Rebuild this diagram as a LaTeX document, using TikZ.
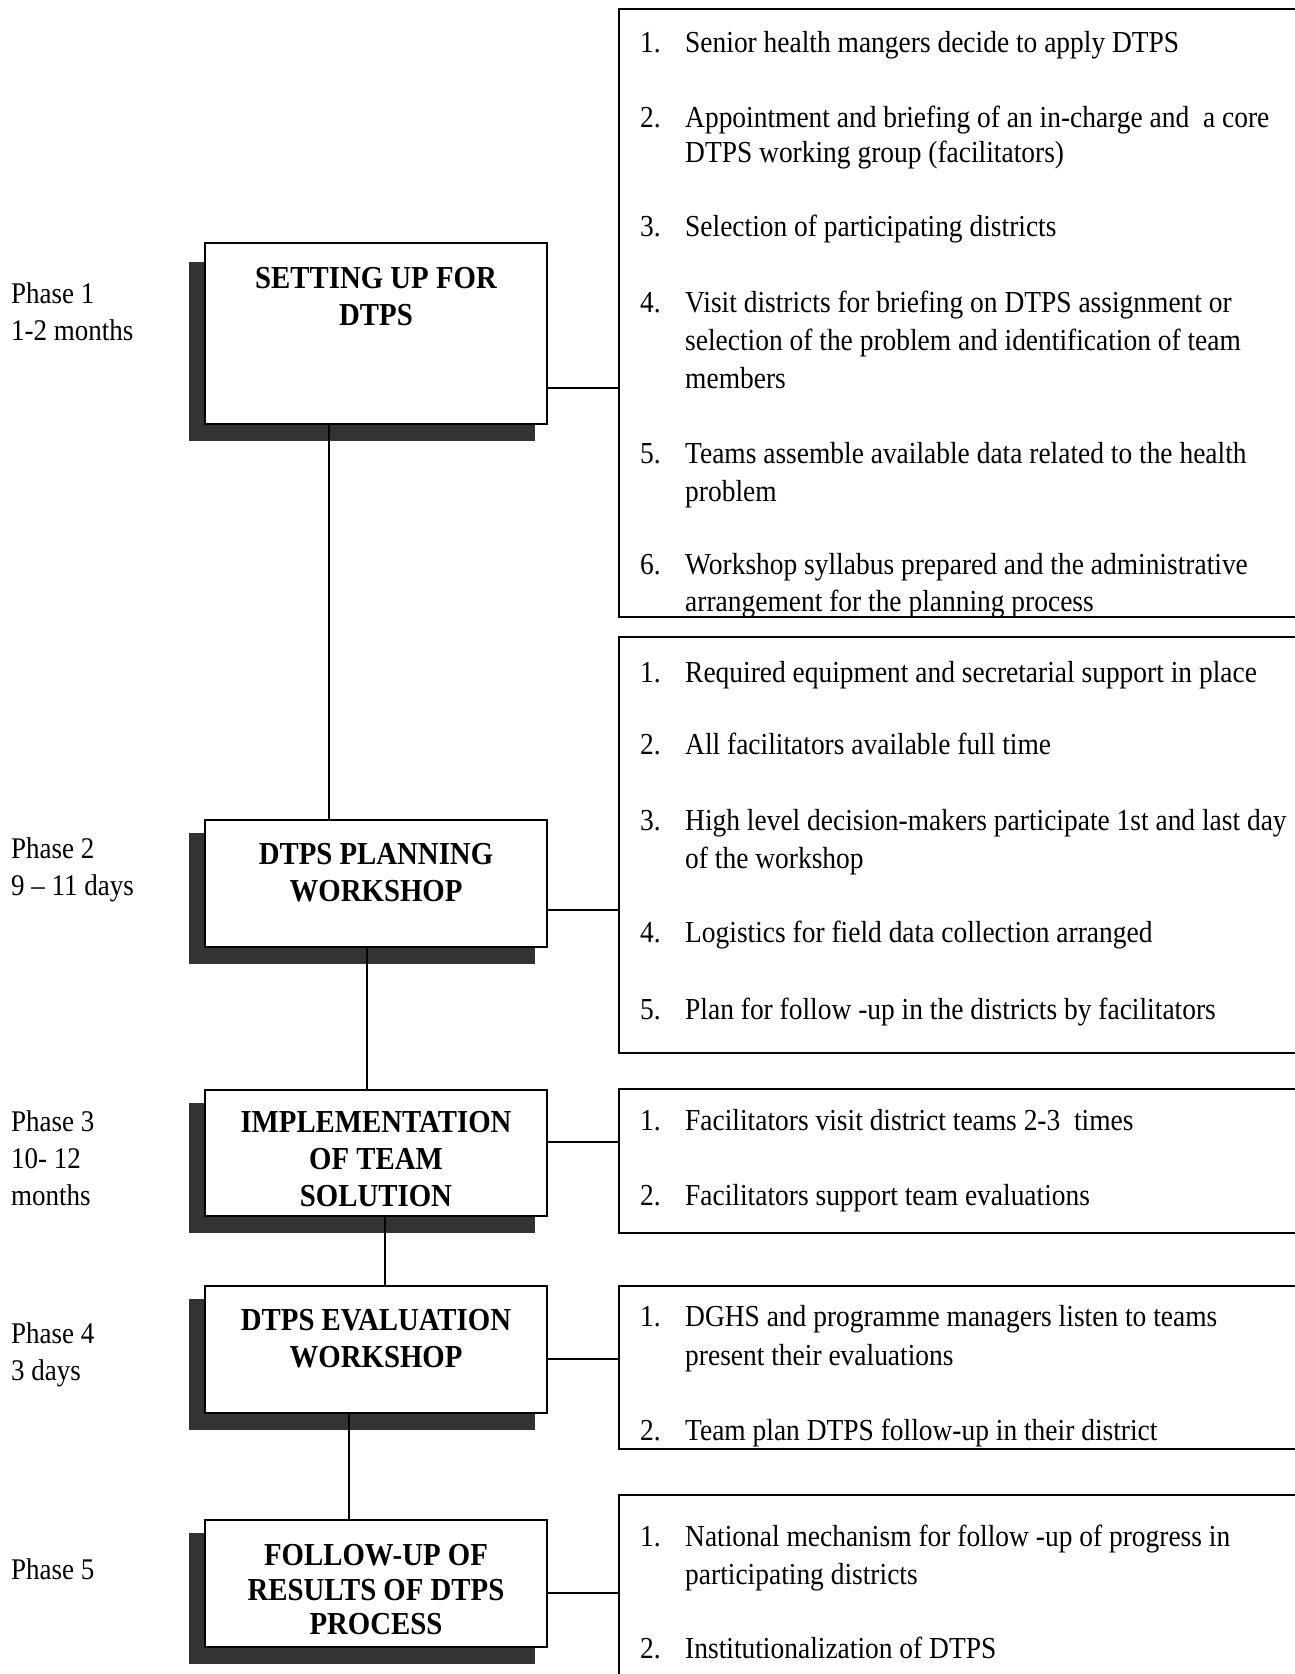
\documentclass[tikz,border=0pt]{standalone}
\usepackage{fontspec}
\setmainfont{Liberation Serif}[FakeStretch=0.9]
\usetikzlibrary{calc}
\pgfdeclarelayer{shadowlayer}
\pgfsetlayers{shadowlayer,main}
\definecolor{shadowgray}{HTML}{333333}
\tikzset{
  phasebox/.style={draw, line width=2pt, fill=white, minimum width=342pt, inner sep=0pt},
  boxshadow/.style={fill=shadowgray},
  listbox/.style={draw, line width=2pt, minimum width=691pt, inner sep=0pt},
  titletext/.style={font=\fontsize{32}{37}\selectfont\bfseries, align=center, inner sep=0pt},
  phaselbl/.style={font=\fontsize{30}{37}\selectfont, align=left, anchor=west, inner sep=0pt},
  itxt/.style={font=\fontsize{30.5}{37}\selectfont, anchor=base west, inner sep=0pt},
  conn/.style={line width=2pt},
}
\newcommand\itl[3]{\node[itxt] (#1) at (685,#2) {#3};}
\newcommand\itn[3]{\node[itxt] (#1) at (640,#2) {#3};}
\newcommand\boxshade[2]{\fill[boxshadow] ($(#1.north west)+(-15,#2)$) rectangle ($(#1.south east)+(-13,16)$);}
\begin{document}
\begin{tikzpicture}[x=1pt,y=-1pt]
\useasboundingbox (0,0) rectangle (1295,1674);

% right list boxes
\node[listbox, minimum height=608.5pt] (r1) at (964.5,312.75) {};
\node[listbox, minimum height=416pt] (r2) at (964.5,845) {};
\node[listbox, minimum height=144pt] (r3) at (964.5,1161) {};
\node[listbox, minimum height=163pt] (r4) at (964.5,1367.5) {};
\node[listbox, minimum height=210pt] (r5) at (964.5,1600) {};

% phase boxes
\node[phasebox, minimum height=181pt] (b1) at (376,333.5) {};
\node[phasebox, minimum height=127pt] (b2) at (376,883.5) {};
\node[phasebox, minimum height=126pt] (b3) at (376,1153) {};
\node[phasebox, minimum height=127pt] (b4) at (376,1349.5) {};
\node[phasebox, minimum height=127pt] (b5) at (376,1583.5) {};

% background and shadows behind the phase boxes
\begin{pgfonlayer}{shadowlayer}
\fill[white] (0,0) rectangle (1295,1674);
\boxshade{b1}{20}
\boxshade{b2}{14}
\boxshade{b3}{14}
\boxshade{b4}{14}
\boxshade{b5}{14}
\end{pgfonlayer}

% titles
\node[titletext] (t1) at (376,296.8) {SETTING UP FOR\\DTPS};
\node[titletext] (t2) at (376,872.8) {DTPS PLANNING\\WORKSHOP};
\node[titletext] (t3) at (376,1159.5) {IMPLEMENTATION\\OF TEAM\\SOLUTION};
\node[titletext] (t4) at (376,1338.8) {DTPS EVALUATION\\WORKSHOP};
\node[titletext, font=\fontsize{32}{34.5}\selectfont\bfseries] (t5) at (376,1589.7) {FOLLOW-UP OF\\RESULTS OF DTPS\\PROCESS};

% phase labels
\node[phaselbl] (p1) at (11,311.8) {Phase 1\\1-2 months};
\node[phaselbl] (p2) at (11,869.5) {Phase 2\\9 -- 11 days};
\node[phaselbl] (p3) at (11,1158.5) {Phase 3\\10- 12\\months};
\node[phaselbl] (p4) at (11,1354.8) {Phase 4\\3 days};
\node[phaselbl] (p5) at (11,1569) {Phase 5};

% connector coordinates
\coordinate (v12) at (329,0);
\coordinate (v23) at (367,0);
\coordinate (v34) at (385,0);
\coordinate (v45) at (349,0);
\coordinate (h1) at (0,388);
\coordinate (h2) at (0,910);
\coordinate (h3) at (0,1142);
\coordinate (h4) at (0,1359);
\coordinate (h5) at (0,1593);

\draw[conn] (b1.south -| v12) -- (b2.north -| v12);
\draw[conn] (b2.south -| v23) -- (b3.north -| v23);
\draw[conn] (b3.south -| v34) -- (b4.north -| v34);
\draw[conn] (b4.south -| v45) -- (b5.north -| v45);
\draw[conn] (b1.east |- h1) -- (r1.west |- h1);
\draw[conn] (b2.east |- h2) -- (r2.west |- h2);
\draw[conn] (b3.east |- h3) -- (r3.west |- h3);
\draw[conn] (b4.east |- h4) -- (r4.west |- h4);
\draw[conn] (b5.east |- h5) -- (r5.west |- h5);

% box 1 items
\itn{n11}{52}{1.}     \itl{l11a}{52}{Senior health mangers decide to apply DTPS}
\itn{n12}{127}{2.}    \itl{l12a}{127}{Appointment and briefing of an in-charge and\ \ a core}
                      \itl{l12b}{162}{DTPS working group (facilitators)}
\itn{n13}{236.5}{3.}  \itl{l13a}{236.5}{Selection of participating districts}
\itn{n14}{312.5}{4.}  \itl{l14a}{312.5}{Visit districts for briefing on DTPS assignment or}
                      \itl{l14b}{350.5}{selection of the problem and identification of team}
                      \itl{l14c}{388}{members}
\itn{n15}{463}{5.}    \itl{l15a}{463}{Teams assemble available data related to the health}
                      \itl{l15b}{501}{problem}
\itn{n16}{574.5}{6.}  \itl{l16a}{574.5}{Workshop syllabus prepared and the administrative}
                      \itl{l16b}{611.5}{arrangement for the planning process}

% box 2 items
\itn{n21}{682}{1.}    \itl{l21a}{682}{Required equipment and secretarial support in place}
\itn{n22}{754.5}{2.}  \itl{l22a}{754.5}{All facilitators available full time}
\itn{n23}{830.5}{3.}  \itl{l23a}{830.5}{High level decision-makers participate 1st and last day}
                      \itl{l23b}{868.5}{of the workshop}
\itn{n24}{942.5}{4.}  \itl{l24a}{942.5}{Logistics for field data collection arranged}
\itn{n25}{1019.5}{5.} \itl{l25a}{1019.5}{Plan for follow -up in the districts by facilitators}

% box 3 items
\itn{n31}{1130.5}{1.} \itl{l31a}{1130.5}{Facilitators visit district teams 2-3\ \ times}
\itn{n32}{1205.5}{2.} \itl{l32a}{1205.5}{Facilitators support team evaluations}

% box 4 items
\itn{n41}{1326.5}{1.} \itl{l41a}{1326.5}{DGHS and programme managers listen to teams}
                      \itl{l41b}{1365.5}{present their evaluations}
\itn{n42}{1440}{2.}   \itl{l42a}{1440}{Team plan DTPS follow-up in their district}

% box 5 items
\itn{n51}{1546}{1.}   \itl{l51a}{1546}{National mechanism for follow -up of progress in}
                      \itl{l51b}{1584}{participating districts}
\itn{n52}{1658}{2.}   \itl{l52a}{1658}{Institutionalization of DTPS}
\end{tikzpicture}
\end{document}
